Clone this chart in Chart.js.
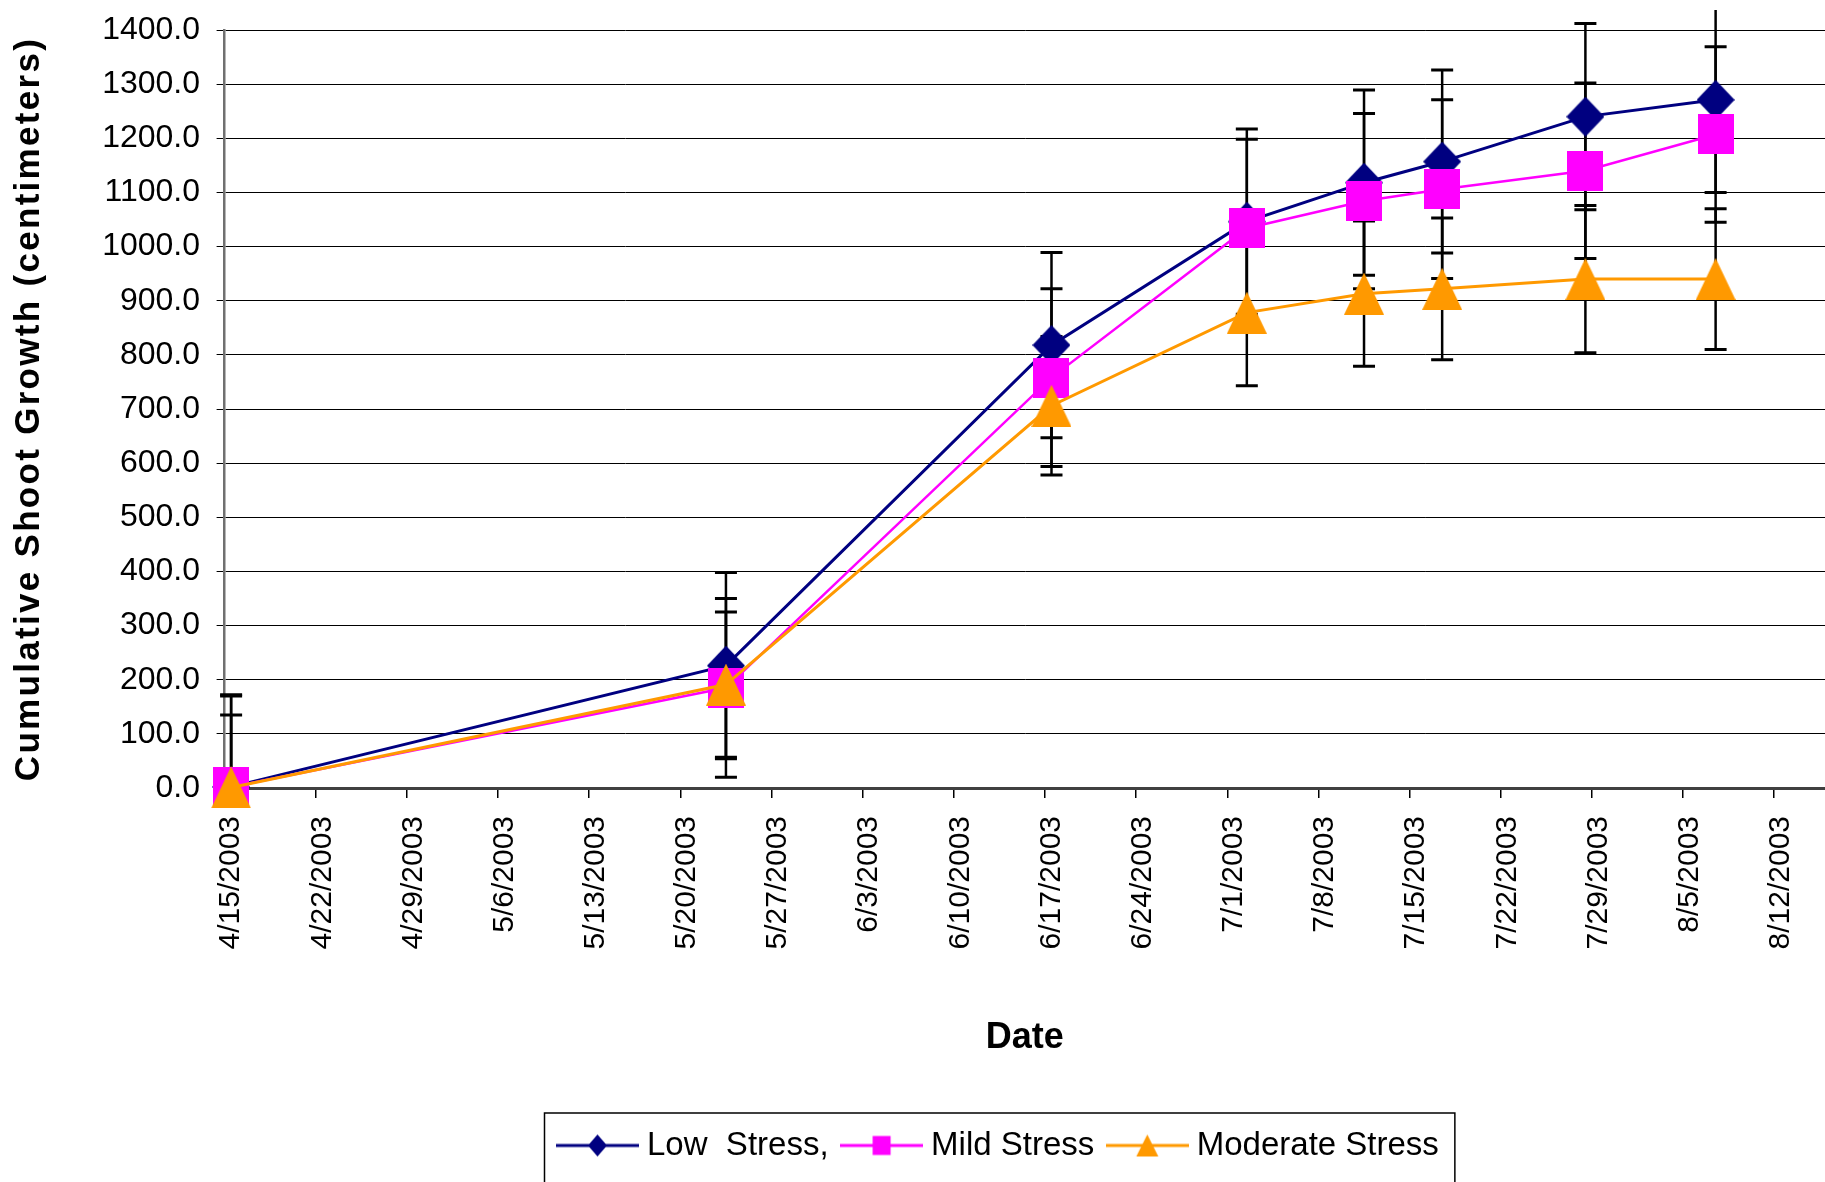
<!DOCTYPE html>
<html>
<head>
<meta charset="utf-8">
<style>
  html, body { margin: 0; padding: 0; background: #fff; }
  #c { display: block; }
</style>
<script src="https://cdn.jsdelivr.net/npm/chart.js@4.4.1/dist/chart.umd.min.js"></script>
</head>
<body>
<canvas id="c" width="1825" height="1182" style="width:1825px;height:1182px"></canvas>
<script>
// ---------------- data ----------------
const sampleDates = ['2003-04-15', '2003-05-23', '2003-06-17', '2003-07-02', '2003-07-11', '2003-07-17', '2003-07-28', '2003-08-07'];
const seriesNames = ['Low  Stress,', 'Mild Stress', 'Moderate Stress'];
const lowStress = [2, 226, 818, 1046, 1118, 1157, 1240, 1271];
const lowStressErr = [168, 172, 171, 171, 171, 169, 172, 171];
const mildStress = [2, 185, 758, 1034, 1084, 1106, 1140, 1207];
const mildStressErr = [170, 165, 164, 164, 162, 165, 162, 162];
const moderateStress = [1, 191, 706, 878, 913, 922, 940, 940];
const moderateStressErr = [134, 134, 128, 135, 134, 131, 136, 130];
const axisStartDate = '2003-04-15';
const axisDays = 122.9;       // axis length in days
const tickStepDays = 7;
const yMin = 0, yMax = 1400, yStep = 100;
const xTitle = 'Date';
const yTitle = 'Cumulative Shoot Growth (centimeters)';

// ---------------- helpers ----------------
const F = "'Liberation Sans', Arial, Helvetica, sans-serif";
const DAY = 86400000;
function parseUTC(s) { const [y, m, d] = s.split('-').map(Number); return Date.UTC(y, m - 1, d); }
const base = parseUTC(axisStartDate);
// Excel date axis: each date occupies a one-day slot; the point sits in the middle of the slot
function toPoints(vals) {
  return vals.map((v, i) => ({ x: (parseUTC(sampleDates[i]) - base) / DAY + 0.5, y: v }));
}
function fmtDate(v) {
  const d = new Date(base + Math.round(v) * DAY);
  return (d.getUTCMonth() + 1) + '/' + d.getUTCDate() + '/' + d.getUTCFullYear();
}

function makeCanvas(w, h, draw) {
  const c = document.createElement('canvas');
  c.width = w; c.height = h;
  const g = c.getContext('2d');
  draw(g, w, h);
  return c;
}
function shape(g, kind, cx, cy, w, h, color) {
  g.fillStyle = color;
  g.beginPath();
  if (kind === 'diamond') {
    g.moveTo(cx, cy - h / 2); g.lineTo(cx + w / 2, cy); g.lineTo(cx, cy + h / 2); g.lineTo(cx - w / 2, cy);
  } else if (kind === 'square') {
    g.rect(cx - w / 2, cy - h / 2, w, h);
  } else {
    g.moveTo(cx, cy - h / 2); g.lineTo(cx + w / 2, cy + h / 2); g.lineTo(cx - w / 2, cy + h / 2);
  }
  g.closePath();
  g.fill();
}
const colors = ['#000080', '#FF00FF', '#FF9900'];
const kinds = ['diamond', 'square', 'triangle'];
const markerSize = [[38, 40], [36, 40], [40, 42]];
const legendMarkerSize = [[19, 22], [18, 19], [22, 22]];
const markers = kinds.map((k, i) => makeCanvas(markerSize[i][0], markerSize[i][1], (g, w, h) => shape(g, k, w / 2, h / 2, w, h, colors[i])));
const legendIcons = kinds.map((k, i) => makeCanvas(83, 26, (g, w, h) => {
  g.strokeStyle = colors[i]; g.lineWidth = 3;
  g.beginPath(); g.moveTo(0, h / 2); g.lineTo(w, h / 2); g.stroke();
  shape(g, k, w / 2, h / 2, legendMarkerSize[i][0], legendMarkerSize[i][1], colors[i]);
}));

// ---------------- plugins ----------------
const errorBars = {
  id: 'errorBars',
  beforeDatasetsDraw(chart) {
    const { ctx, chartArea, scales: { x, y } } = chart;
    ctx.save();
    ctx.beginPath();
    ctx.rect(0, 10, chart.width, chartArea.bottom - 10);
    ctx.clip();
    ctx.strokeStyle = '#000';
    chart.data.datasets.forEach(ds => {
      ds.data.forEach((p, i) => {
        const e = ds.errors[i];
        const px = x.getPixelForValue(p.x);
        const t = y.getPixelForValue(p.y + e);
        const b = y.getPixelForValue(p.y - e);
        ctx.lineWidth = 2.5;
        ctx.beginPath(); ctx.moveTo(px, t); ctx.lineTo(px, b); ctx.stroke();
        ctx.lineWidth = 3;
        ctx.beginPath();
        ctx.moveTo(px - 11, t); ctx.lineTo(px + 11, t);
        ctx.moveTo(px - 11, b); ctx.lineTo(px + 11, b);
        ctx.stroke();
      });
    });
    ctx.restore();
  }
};

const legendPlace = {
  id: 'legendPlace',
  afterLayout(chart) {
    const lg = chart.legend;
    if (!lg || !lg.lineWidths) return;
    const pad = lg.options.labels.padding;
    const cursor = (lg.left + pad + lg.right - lg.lineWidths[0]) / 2;
    const dx = 564.5 - cursor;
    lg.left += dx; lg.right += dx;
  },
  afterDraw(chart) {
    const lg = chart.legend;
    if (!lg || !lg.legendHitBoxes || !lg.legendHitBoxes.length) return;
    const hb = lg.legendHitBoxes;
    const l = hb[0].left - 20;
    const r = hb[hb.length - 1].left + hb[hb.length - 1].width + 16;
    const t = hb[0].top - 16;
    const ctx = chart.ctx;
    ctx.save();
    ctx.strokeStyle = '#000';
    ctx.lineWidth = 1.5;
    ctx.strokeRect(l, t, r - l, chart.height + 10 - t);
    ctx.restore();
  }
};

const yTitleSpacing = {
  id: 'yTitleSpacing',
  beforeDraw(chart) {
    const s = chart.scales.y;
    if (s && !s.__spaced) {
      const orig = s.drawTitle;
      s.drawTitle = function () {
        this.ctx.save();
        this.ctx.letterSpacing = '2.3px';
        orig.call(this);
        this.ctx.restore();
      };
      s.__spaced = true;
    }
  }
};

// ---------------- chart ----------------
const seriesVals = [lowStress, mildStress, moderateStress];
const seriesErrs = [lowStressErr, mildStressErr, moderateStressErr];
const lineW = [3, 2.5, 3];

new Chart(document.getElementById('c'), {
  type: 'line',
  data: {
    datasets: seriesNames.map((name, i) => ({
      label: name,
      data: toPoints(seriesVals[i]),
      errors: seriesErrs[i],
      borderColor: colors[i],
      backgroundColor: colors[i],
      borderWidth: lineW[i],
      pointStyle: markers[i],
      pointRadius: 10,
      tension: 0,
      fill: false,
      clip: false,
      order: 3 - i
    }))
  },
  options: {
    responsive: false,
    animation: false,
    devicePixelRatio: 1,
    events: [],
    layout: { autoPadding: false, padding: { top: 30, left: 0, right: 0, bottom: 10 } },
    scales: {
      x: {
        type: 'linear',
        min: 0,
        max: axisDays,
        afterFit(s) { s.height = 321; s.paddingLeft = 0; s.paddingRight = 0; },
        ticks: {
          stepSize: tickStepDays,
          includeBounds: false,
          autoSkip: false,
          minRotation: 90,
          maxRotation: 90,
          padding: 18,
          labelOffset: 6.5,
          color: '#000',
          font: { family: F, size: 30 },
          callback: (v) => fmtDate(v)
        },
        grid: { drawOnChartArea: false, drawTicks: true, tickLength: 10, color: '#000', lineWidth: 1.5 },
        border: { display: true, color: '#404040', width: 3 },
        title: { display: true, text: xTitle, color: '#000', font: { family: F, size: 36, weight: 'bold' }, padding: { top: 0, bottom: 49 } }
      },
      y: {
        min: yMin,
        max: yMax,
        afterFit(s) { s.width = 224.6; s.paddingTop = 0; s.paddingBottom = 0; },
        ticks: {
          stepSize: yStep,
          padding: 16.6,
          color: '#000',
          font: { family: F, size: 32 },
          callback: (v) => Number(v).toFixed(1)
        },
        grid: { color: '#000', lineWidth: 1, tickLength: 8, drawTicks: true },
        border: { display: true, color: '#707070', width: 2.5 },
        title: { display: true, text: yTitle, color: '#000', font: { family: F, size: 35, weight: 'bold' }, padding: { top: 8.5, bottom: 0 } }
      }
    },
    plugins: {
      tooltip: { enabled: false },
      legend: {
        position: 'bottom',
        labels: {
          usePointStyle: true,
          pointStyleWidth: 66,
          padding: 20,
          color: '#000',
          font: { family: F, size: 33 },
          sort: (a, b) => a.datasetIndex - b.datasetIndex,
          generateLabels(chart) {
            const items = Chart.defaults.plugins.legend.labels.generateLabels(chart);
            items.forEach(it => { it.pointStyle = legendIcons[it.datasetIndex]; });
            return items;
          }
        }
      }
    }
  },
  plugins: [errorBars, legendPlace, yTitleSpacing]
});
</script>
</body>
</html>
